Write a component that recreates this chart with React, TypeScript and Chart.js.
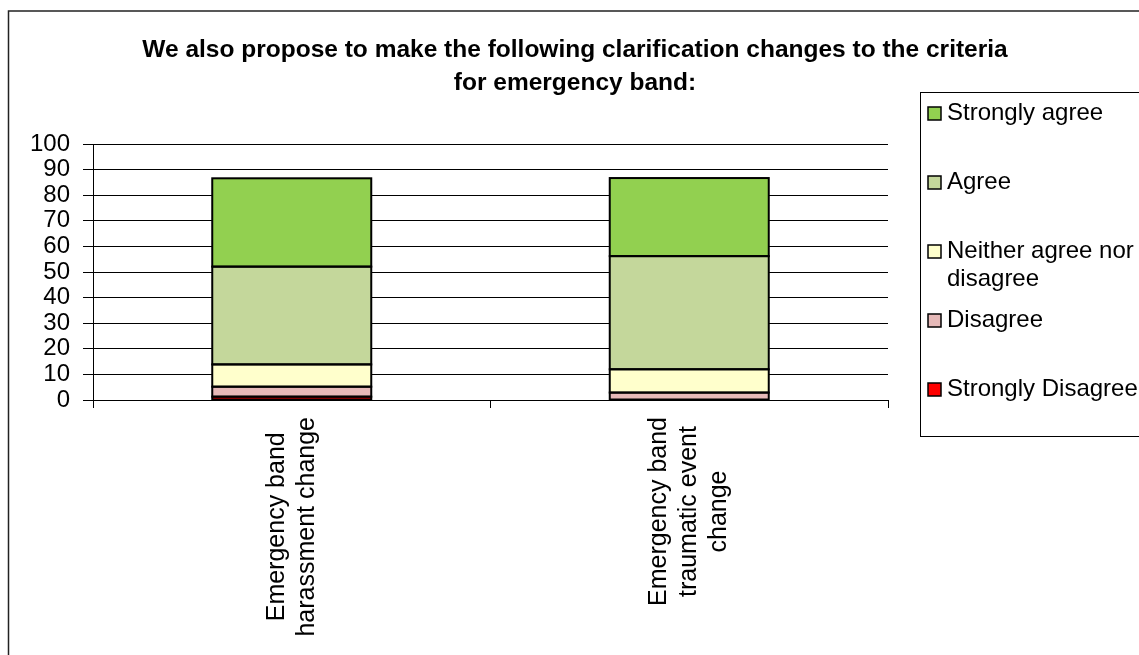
import React, { useEffect, useRef } from "react";
import { Chart, registerables } from "chart.js";

Chart.register(...registerables);

// ---- Data ----
const categories: string[][] = [
  ["Emergency band", "harassment change"],
  ["Emergency band", "traumatic event", "change"],
];
const seriesLabels = [
  "Strongly Disagree",
  "Disagree",
  "Neither agree nor disagree",
  "Agree",
  "Strongly agree",
];
const stronglyDisagree = [1.3, 0];
const disagree = [3.9, 2.9];
const neither = [8.7, 9.1];
const agree = [38.2, 44.2];
const stronglyAgree = [34.5, 30.5];
const yMin = 0;
const yMax = 100;
const yStep = 10;
const titleLines = [
  "We also propose to make the following clarification changes to the criteria",
  "for emergency band:",
];
// legend entries, top to bottom, with their line breaks
const legendLines: string[][] = [
  ["Strongly agree"],
  ["Agree"],
  ["Neither agree nor", "disagree"],
  ["Disagree"],
  ["Strongly Disagree"],
];
const seriesColors = ["#FF0000", "#E6B9B8", "#FFFFCC", "#C4D79B", "#92D050"];

const FONT = "'Liberation Sans', Arial, sans-serif";

const decorPlugin = {
  id: "decor",
  beforeDraw(chart: any) {
    const ctx = chart.ctx as CanvasRenderingContext2D;
    ctx.save();
    ctx.fillStyle = "#fff";
    ctx.fillRect(0, 0, chart.width, chart.height);
    ctx.strokeStyle = "#222";
    ctx.lineWidth = 1.5;
    ctx.strokeRect(8.5, 11, chart.width + 20, chart.height + 20);
    ctx.restore();
  },
  afterDatasetsDraw(chart: any) {
    const ctx = chart.ctx as CanvasRenderingContext2D;
    ctx.save();
    ctx.strokeStyle = "#000";
    ctx.lineWidth = 2;
    chart.data.datasets.forEach((_: any, di: number) => {
      const meta = chart.getDatasetMeta(di);
      meta.data.forEach((bar: any) => {
        const { x, y, base, width } = bar.getProps(["x", "y", "base", "width"], true);
        const top = Math.min(y, base);
        const h = Math.abs(base - y);
        if (h < 0.5) return;
        ctx.strokeRect(x - width / 2, top, width, h);
      });
    });
    ctx.restore();
  },
  afterDraw(chart: any) {
    const ctx = chart.ctx as CanvasRenderingContext2D;
    ctx.save();
    // Title
    ctx.fillStyle = "#000";
    ctx.font = `bold 24.5px ${FONT}`;
    ctx.textAlign = "center";
    ctx.textBaseline = "middle";
    titleLines.forEach((t, i) => ctx.fillText(t, 575, 50 + i * 33));

    // Category labels (rotated, centered lines)
    const xs = chart.scales.x;
    ctx.font = `25px ${FONT}`;
    const lh = 30;
    (chart.data.labels as string[][]).forEach((lines, i) => {
      const x = xs.getPixelForValue(i);
      const maxW = Math.max(...lines.map((l) => ctx.measureText(l).width));
      ctx.save();
      ctx.translate(x, chart.chartArea.bottom + 17 + maxW / 2);
      ctx.rotate(-Math.PI / 2);
      ctx.textAlign = "center";
      ctx.textBaseline = "middle";
      lines.forEach((l, j) => ctx.fillText(l, 0, (j - (lines.length - 1) / 2) * lh));
      ctx.restore();
    });

    // Legend
    ctx.strokeStyle = "#000";
    ctx.lineWidth = 1;
    ctx.strokeRect(920.5, 92.5, 400, 344);
    ctx.font = `24px ${FONT}`;
    ctx.textAlign = "left";
    ctx.textBaseline = "middle";
    const n = chart.data.datasets.length;
    legendLines.forEach((lines, k) => {
      const ds = chart.data.datasets[n - 1 - k];
      const cy = 113 + k * 69;
      ctx.fillStyle = ds.backgroundColor;
      ctx.fillRect(928, cy - 6, 13, 13);
      ctx.lineWidth = 1.5;
      ctx.strokeStyle = "#000";
      ctx.strokeRect(928, cy - 6, 13, 13);
      ctx.fillStyle = "#000";
      lines.forEach((l, j) => ctx.fillText(l, 947, cy + j * 28));
    });
    ctx.restore();
  },
};

export default function App() {
  const ref = useRef<HTMLCanvasElement | null>(null);
  useEffect(() => {
    if (!ref.current) return;
    const seriesData = [stronglyDisagree, disagree, neither, agree, stronglyAgree];
    const chart = new Chart(ref.current, {
      type: "bar",
      data: {
        labels: categories as any,
        datasets: seriesLabels.map((label, i) => ({
          label,
          data: seriesData[i],
          backgroundColor: seriesColors[i],
          borderWidth: 0,
          categoryPercentage: 0.4,
          barPercentage: 1,
        })),
      },
      options: {
        responsive: false,
        animation: false,
        devicePixelRatio: 1,
        layout: { padding: { top: 144, right: 251, left: 0, bottom: 0 } },
        plugins: {
          legend: { display: false },
          title: { display: false },
          tooltip: { enabled: false },
        },
        scales: {
          x: {
            stacked: true,
            ticks: { display: false },
            grid: {
              display: true,
              drawOnChartArea: false,
              drawTicks: true,
              tickLength: 8,
              color: "#000",
              offset: true,
            },
            border: { display: true, color: "#000", width: 1 },
            afterFit: (s: any) => {
              s.height = 255;
            },
          },
          y: {
            stacked: true,
            min: yMin,
            max: yMax,
            ticks: {
              stepSize: yStep,
              autoSkip: false,
              color: "#000",
              padding: 13,
              font: { family: FONT, size: 24 },
            },
            grid: { color: "#000", tickLength: 10 },
            border: { display: true, color: "#000", width: 1 },
            afterFit: (s: any) => {
              s.width = 93;
            },
          },
        },
      },
      plugins: [decorPlugin],
    });
    return () => chart.destroy();
  }, []);
  return (
    <div style={{ position: "fixed", left: 0, top: 0, width: 1139, height: 655, overflow: "hidden", background: "#fff" }}>
      <canvas ref={ref} width={1139} height={655} style={{ display: "block", width: 1139, height: 655 }} />
    </div>
  );
}
